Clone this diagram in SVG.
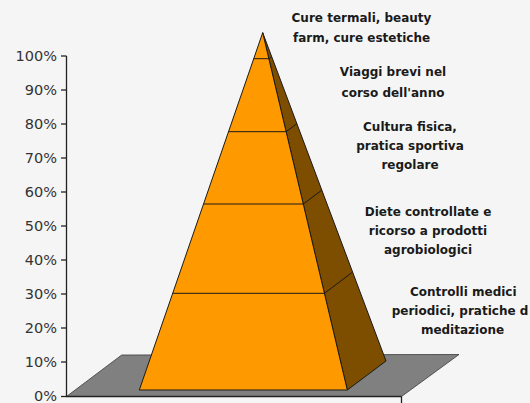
<svg xmlns="http://www.w3.org/2000/svg" width="530" height="403" viewBox="0 0 530 403">
<style>
.lbl{font-family:"DejaVu Sans","Liberation Sans",sans-serif;font-weight:bold;font-size:12px;fill:#1a1a1a;text-anchor:middle}
.ax{font-family:"DejaVu Sans","Liberation Sans",sans-serif;font-size:14.5px;fill:#333;text-anchor:end}
.axl{stroke:#222;stroke-width:1.3;fill:none}
.edge{stroke:#1a1a1a;stroke-width:1;stroke-linejoin:round}
</style>
<rect x="0" y="0" width="530" height="403" fill="#f5f5f5"/>
<g id="platform">
<polygon points="66.5,396.5 121.7,355 459,354.5 401.5,396.5" fill="#808080" stroke="#3a3a3a" stroke-width="0.8"/>
</g>
<g id="axis">
<line class="axl" x1="66.5" y1="56" x2="66.5" y2="397"/>
<line class="axl" x1="66" y1="396.5" x2="401.5" y2="396.5"/>
<line class="axl" x1="401.5" y1="396.5" x2="401.5" y2="403"/>
<g class="axl">
<line x1="61" y1="56" x2="66.5" y2="56"/>
<line x1="61" y1="90" x2="66.5" y2="90"/>
<line x1="61" y1="124" x2="66.5" y2="124"/>
<line x1="61" y1="158" x2="66.5" y2="158"/>
<line x1="61" y1="192" x2="66.5" y2="192"/>
<line x1="61" y1="226" x2="66.5" y2="226"/>
<line x1="61" y1="260" x2="66.5" y2="260"/>
<line x1="61" y1="294" x2="66.5" y2="294"/>
<line x1="61" y1="328" x2="66.5" y2="328"/>
<line x1="61" y1="362" x2="66.5" y2="362"/>
<line x1="61" y1="396.5" x2="66.5" y2="396.5"/>
</g>
<text class="ax" x="57" y="61.3">100%</text>
<text class="ax" x="57" y="95.3">90%</text>
<text class="ax" x="57" y="129.3">80%</text>
<text class="ax" x="57" y="163.3">70%</text>
<text class="ax" x="57" y="197.3">60%</text>
<text class="ax" x="57" y="231.3">50%</text>
<text class="ax" x="57" y="265.3">40%</text>
<text class="ax" x="57" y="299.3">30%</text>
<text class="ax" x="57" y="333.3">20%</text>
<text class="ax" x="57" y="367.3">10%</text>
<text class="ax" x="57" y="400.5">0%</text>
</g>
<g id="pyramid">
<polygon class="edge" points="262.7,32.7 347.3,390 386,361" fill="#7d4d00"/>
<polygon class="edge" points="262.7,32.7 139.3,390 347.3,390" fill="#ff9900"/>
<g class="edge" fill="none">
<line x1="253.8" y1="58.7" x2="268.9" y2="58.7"/>
<line x1="268.9" y1="58.7" x2="271.7" y2="56.6"/>
<line x1="228.6" y1="131.7" x2="286.1" y2="131.7"/>
<line x1="286.1" y1="131.7" x2="296.9" y2="123.7"/>
<line x1="203.7" y1="204" x2="303.3" y2="204"/>
<line x1="303.3" y1="204" x2="321.8" y2="190.1"/>
<line x1="172.7" y1="293.3" x2="324.4" y2="293.3"/>
<line x1="324.4" y1="293.3" x2="352.6" y2="272.1"/>
</g>
</g>
<g id="label-1">
<text class="lbl" x="361.5" y="22">Cure termali, beauty</text>
<text class="lbl" x="361.5" y="42.3">farm, cure estetiche</text>
</g>
<g id="label-2">
<text class="lbl" x="393" y="75.7">Viaggi brevi nel</text>
<text class="lbl" x="393" y="96.5">corso dell'anno</text>
</g>
<g id="label-3">
<text class="lbl" x="410" y="130.5">Cultura fisica,</text>
<text class="lbl" x="410" y="150">pratica sportiva</text>
<text class="lbl" x="410" y="169.3">regolare</text>
</g>
<g id="label-4">
<text class="lbl" x="428" y="215.7">Diete controllate e</text>
<text class="lbl" x="428" y="235">ricorso a prodotti</text>
<text class="lbl" x="428" y="254.3">agrobiologici</text>
</g>
<g id="label-5">
<text class="lbl" x="463.3" y="295.7">Controlli medici</text>
<text class="lbl" x="391.7" y="315" style="text-anchor:start">periodici, pratiche d</text>
<text class="lbl" x="462.5" y="334.3">meditazione</text>
</g>
</svg>
